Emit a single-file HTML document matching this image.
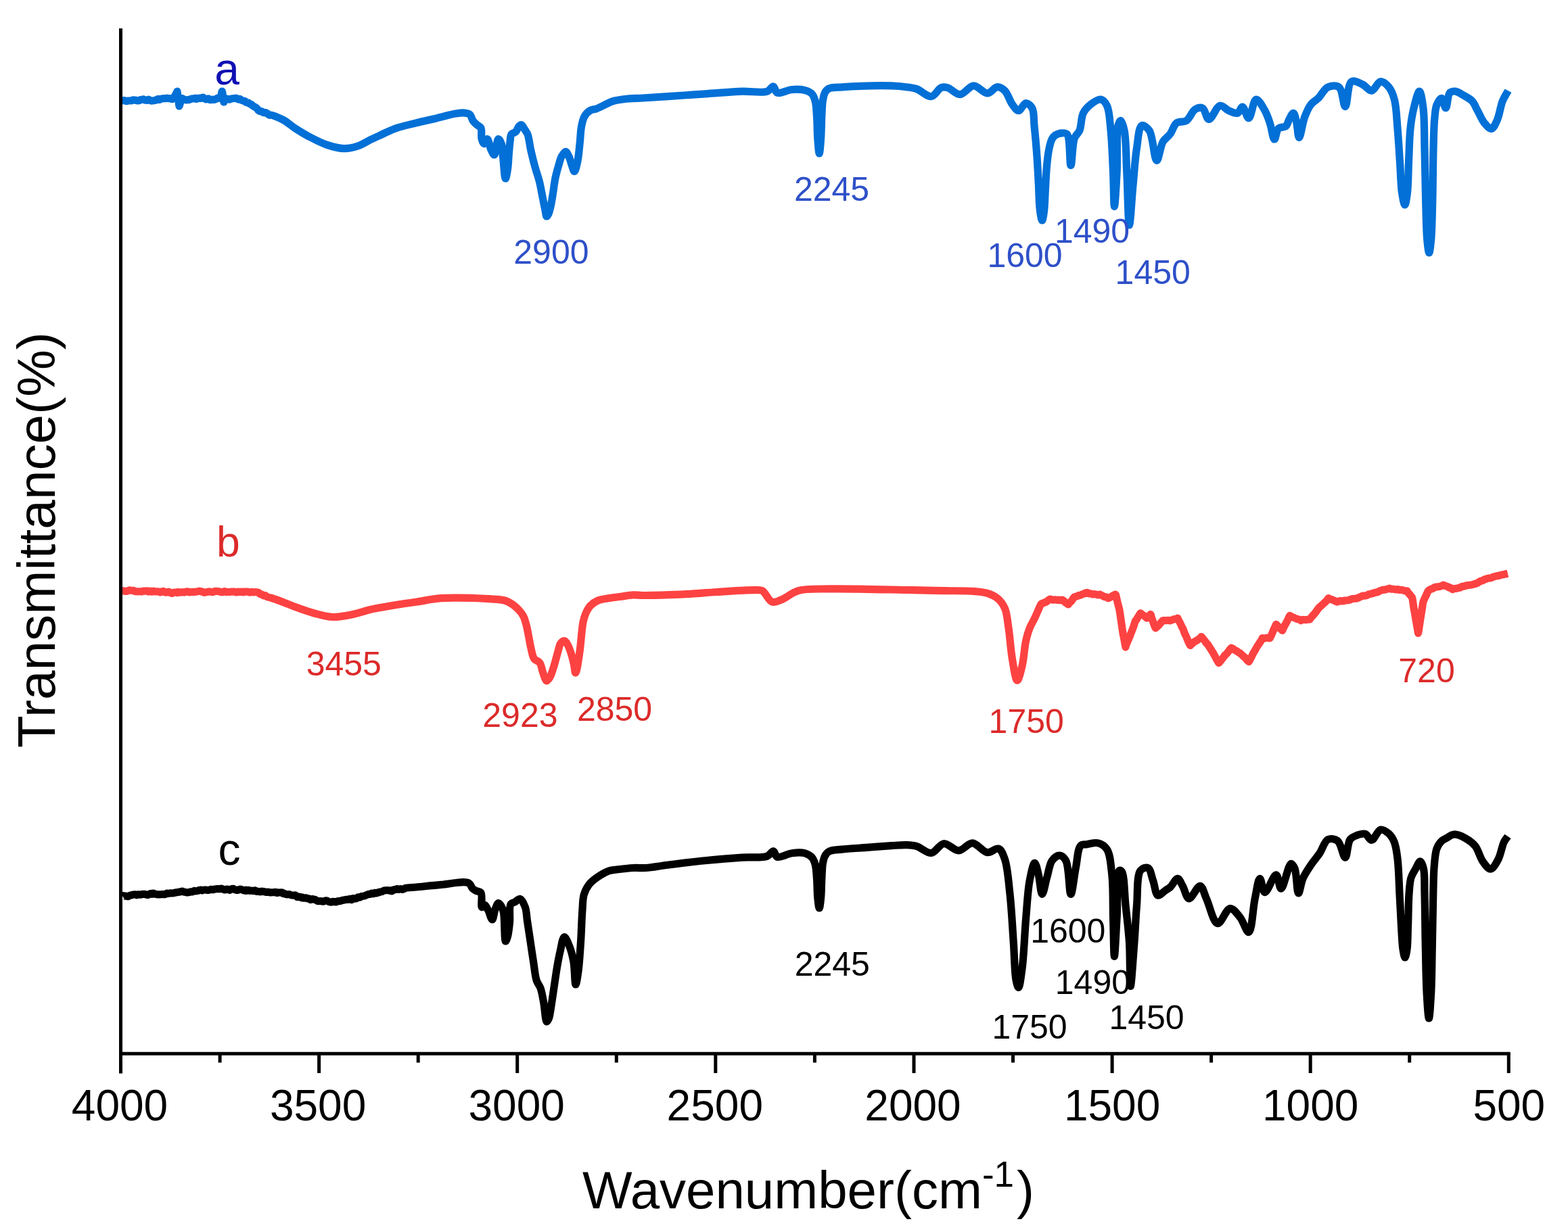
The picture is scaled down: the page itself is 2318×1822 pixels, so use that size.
<!DOCTYPE html>
<html><head><meta charset="utf-8"><title>FTIR spectra</title>
<style>
html,body{margin:0;padding:0;background:#ffffff;}
body{width:2318px;height:1822px;overflow:hidden;}
svg{display:block;}
text{font-family:'Liberation Sans', Arial, Helvetica, sans-serif;}
</style></head><body>
<svg width="2318" height="1822" viewBox="0 0 2318 1822">
<rect x="0" y="0" width="2318" height="1822" fill="#ffffff"/>
<path d="M181.0,148.8 C181.3,148.8 181.6,148.7 182.0,148.7 C182.6,148.6 183.7,148.6 184.5,148.8 C185.3,149.0 186.2,149.6 187.0,149.6 C187.8,149.7 188.7,149.2 189.5,149.0 C190.3,148.9 191.2,148.8 192.0,148.8 C192.8,148.7 193.7,148.9 194.5,148.8 C195.3,148.6 196.2,148.0 197.0,147.9 C197.8,147.8 198.7,148.0 199.5,148.1 C200.3,148.2 201.2,148.3 202.0,148.5 C202.8,148.6 203.7,149.0 204.5,149.0 C205.3,148.9 206.5,148.5 206.8,148.2 C207.0,148.0 206.8,147.8 207.0,147.7 C207.4,147.4 208.7,147.6 209.5,147.4 C210.3,147.3 211.2,146.7 212.0,146.8 C212.9,146.9 213.6,147.8 214.5,148.1 C215.3,148.3 216.2,148.5 217.0,148.4 C217.9,148.3 218.7,147.1 219.5,147.1 C220.3,147.1 221.1,148.2 222.0,148.5 C222.8,148.8 223.7,149.1 224.5,149.1 C225.3,149.2 226.2,148.8 227.0,148.7 C227.8,148.6 228.7,148.6 229.5,148.4 C230.4,148.1 231.2,147.6 232.0,147.2 C232.8,146.8 234.0,146.0 234.5,146.3 C234.8,146.4 234.7,147.4 235.0,147.5 C235.4,147.7 236.3,147.0 237.0,146.8 C237.8,146.5 238.7,146.1 239.5,145.9 C240.3,145.7 241.2,145.7 242.0,145.7 C242.8,145.6 243.7,145.7 244.5,145.6 C245.3,145.5 246.2,145.0 247.0,145.0 C247.8,145.0 248.7,145.4 249.5,145.6 C250.3,145.7 251.2,145.5 252.0,145.7 C252.8,145.9 253.8,146.6 254.5,146.6 C255.1,146.6 255.6,146.3 256.0,146.0 C256.4,145.6 256.6,145.1 257.0,144.4 C257.7,143.3 258.7,141.5 259.5,140.0 C260.3,138.5 261.9,135.8 262.0,135.2 C262.0,135.1 262.0,135.0 262.0,135.0 C262.1,135.0 264.0,150.1 264.5,153.8 C264.7,155.3 264.7,157.0 265.0,157.0 C265.4,157.0 266.5,151.8 267.0,149.8 C267.4,148.3 267.4,146.6 268.0,146.0 C268.4,145.6 269.0,145.5 269.5,145.6 C270.2,145.7 271.1,146.6 272.0,147.0 C272.8,147.3 273.7,147.6 274.5,147.7 C275.3,147.8 276.2,147.8 277.0,147.7 C277.8,147.7 278.7,147.7 279.5,147.5 C280.3,147.3 281.2,146.8 282.0,146.5 C282.8,146.3 283.7,146.0 284.5,145.9 C285.3,145.7 286.2,145.8 287.0,145.7 C287.8,145.6 289.0,144.9 289.5,145.2 C289.9,145.4 289.7,146.3 290.0,146.5 C290.4,146.7 291.3,146.1 292.0,145.9 C292.8,145.7 293.7,145.2 294.5,145.1 C295.3,145.0 296.2,145.5 297.0,145.4 C297.9,145.2 299.0,144.4 299.5,144.2 C299.7,144.1 299.8,144.0 300.0,144.0 C300.5,144.1 301.3,145.3 302.0,145.7 C302.8,146.2 303.7,146.8 304.5,146.9 C305.3,146.9 306.2,146.1 307.0,146.0 C307.8,145.9 309.0,146.1 309.5,146.5 C309.8,146.7 309.7,147.3 310.0,147.5 C310.4,147.8 311.3,147.7 312.0,147.7 C312.8,147.6 313.7,147.0 314.5,147.0 C315.3,146.9 316.2,147.6 317.0,147.5 C317.8,147.5 318.7,146.8 319.5,146.4 C320.3,145.9 321.1,145.0 322.0,144.9 C322.8,144.7 323.8,145.1 324.5,145.1 C325.1,145.1 325.6,145.3 326.0,145.0 C326.6,144.5 326.7,142.6 327.0,141.2 C327.4,139.4 327.9,135.0 328.3,135.0 C328.7,135.0 329.1,139.4 329.5,141.9 C330.0,144.7 330.4,150.9 331.0,151.0 C331.3,151.0 331.5,149.6 332.0,149.0 C332.6,148.2 333.7,147.1 334.5,146.6 C335.0,146.3 335.6,146.0 336.0,146.0 C336.4,146.0 336.6,146.5 337.0,146.6 C337.6,146.9 338.7,147.2 339.5,147.1 C340.4,146.9 341.1,146.1 342.0,145.9 C342.8,145.7 343.7,145.8 344.5,145.7 C345.3,145.6 346.2,145.4 347.0,145.4 C347.8,145.3 348.7,145.0 349.5,145.2 C350.4,145.4 351.2,146.4 352.0,146.7 C352.7,147.0 353.6,147.2 354.0,147.0 C354.3,146.9 354.2,146.5 354.5,146.4 C355.0,146.4 356.1,147.6 357.0,148.0 C357.8,148.5 358.7,148.9 359.5,149.1 C360.3,149.4 361.2,149.3 362.0,149.7 C362.9,150.1 363.6,151.3 364.5,151.6 C365.3,152.0 366.3,151.6 367.0,151.9 C367.7,152.2 368.3,153.1 368.8,153.4 C369.1,153.6 369.2,153.7 369.5,153.8 C370.1,154.1 371.2,154.3 372.0,154.8 C372.9,155.3 373.6,156.3 374.5,156.9 C375.3,157.4 376.2,157.8 377.0,158.3 C377.8,158.9 378.7,159.4 379.5,160.1 C380.3,160.8 381.3,162.0 381.7,162.6 C381.9,162.9 381.8,163.0 382.0,163.3 C382.4,163.7 383.6,164.4 384.5,164.7 C385.3,164.9 386.2,164.5 387.0,164.8 C387.9,165.1 388.6,166.3 389.5,166.6 C390.3,166.9 391.2,166.4 392.0,166.5 C392.8,166.7 393.7,167.0 394.5,167.4 C395.4,167.9 396.1,168.9 397.0,169.4 C397.8,169.8 399.0,170.4 399.5,170.4 C399.8,170.4 399.7,170.0 400.1,170.0 C402.0,169.8 412.5,174.1 418.5,177.3 C424.8,180.7 430.7,186.2 436.9,190.2 C443.0,194.1 448.4,197.6 455.3,201.2 C463.5,205.5 473.7,211.0 482.9,214.1 C491.5,217.0 500.6,219.5 508.7,219.6 C515.9,219.7 522.5,218.1 529.0,216.0 C535.4,213.9 541.8,209.5 547.4,206.8 C552.0,204.6 555.1,203.2 560.0,201.0 C566.7,197.9 575.3,193.3 583.9,190.2 C593.5,186.8 605.1,184.4 615.2,181.9 C624.7,179.5 633.4,177.7 642.8,175.5 C652.7,173.1 665.6,169.4 673.4,168.1 C678.2,167.3 681.4,166.6 685.1,166.9 C688.4,167.1 692.2,167.4 694.5,169.3 C696.9,171.2 697.3,176.0 699.2,178.6 C700.9,180.9 703.0,182.7 705.0,184.5 C706.9,186.2 709.6,186.8 710.9,189.2 C712.8,192.8 710.9,201.4 712.1,205.6 C712.9,208.5 714.3,212.5 715.6,212.6 C717.0,212.7 718.8,205.4 720.3,205.6 C722.4,205.9 724.0,217.8 726.1,222.0 C727.6,224.9 729.4,229.2 730.8,229.0 C733.2,228.6 734.3,206.0 736.7,205.6 C738.1,205.4 740.2,209.5 741.3,212.6 C743.1,217.6 742.8,226.0 743.7,233.7 C744.8,242.9 745.8,263.9 747.2,264.0 C748.2,264.1 749.7,255.4 750.5,250.0 C751.6,242.9 751.8,232.5 752.5,225.0 C753.1,218.8 753.5,212.8 754.2,208.0 C754.7,204.4 754.4,200.7 756.0,198.5 C757.4,196.6 760.6,196.7 762.4,195.0 C764.4,193.0 765.4,188.6 767.1,186.8 C768.2,185.6 769.4,184.3 770.6,184.5 C772.5,184.8 774.8,190.2 776.5,192.7 C777.9,194.8 778.9,195.8 780.0,198.5 C782.0,203.6 783.0,214.2 784.7,222.0 C786.5,229.8 788.4,237.6 790.5,245.4 C792.6,253.2 795.5,261.0 797.5,268.8 C799.4,276.6 800.7,284.8 802.2,292.2 C803.5,298.8 804.9,305.9 806.0,311.0 C806.8,314.6 807.0,319.8 808.1,320.0 C808.9,320.2 810.2,317.7 811.0,316.0 C812.2,313.5 813.0,309.9 813.9,306.0 C815.2,300.6 816.3,293.2 817.4,286.4 C818.6,279.0 819.5,270.2 821.0,263.0 C822.3,256.7 824.0,250.9 825.6,245.4 C827.1,240.4 828.2,235.0 830.3,231.3 C831.9,228.4 834.4,224.2 836.2,224.3 C837.9,224.4 839.5,228.4 840.9,231.3 C842.8,235.1 844.1,241.4 845.6,245.4 C846.8,248.5 847.9,253.6 849.1,253.5 C850.6,253.4 852.5,245.1 853.7,239.5 C855.5,231.6 856.3,219.5 857.3,210.3 C858.2,202.0 858.2,193.7 859.6,186.8 C860.7,181.1 861.9,175.7 864.3,171.6 C866.4,168.1 869.4,165.2 872.5,163.4 C875.4,161.7 878.2,162.1 882.1,160.7 C888.4,158.4 898.1,152.2 906.1,149.7 C913.5,147.4 920.8,146.8 928.2,146.0 C935.5,145.2 941.8,145.5 950.0,145.0 C960.7,144.4 973.3,143.5 986.8,142.6 C1003.3,141.5 1023.6,140.1 1042.0,138.9 C1060.4,137.7 1080.7,135.8 1097.3,135.2 C1110.8,134.7 1126.2,138.0 1134.1,135.2 C1138.6,133.6 1140.8,127.4 1143.3,127.9 C1145.7,128.3 1145.6,135.7 1148.8,137.1 C1153.4,139.1 1163.8,133.1 1170.9,132.5 C1177.3,132.0 1184.1,132.0 1189.3,133.4 C1193.6,134.5 1197.7,136.2 1200.3,138.9 C1202.8,141.5 1203.8,144.8 1205.0,149.0 C1206.7,155.0 1206.9,163.6 1207.5,172.0 C1208.2,182.0 1208.1,195.1 1208.8,205.0 C1209.4,213.1 1210.4,227.0 1211.2,227.0 C1212.0,227.0 1213.0,213.1 1213.6,205.0 C1214.3,195.1 1214.3,182.1 1214.8,172.0 C1215.3,163.4 1215.3,154.6 1216.5,148.0 C1217.3,143.3 1218.1,139.0 1220.0,136.0 C1221.5,133.6 1223.3,131.8 1226.1,130.6 C1230.4,128.7 1236.3,129.3 1244.5,128.8 C1260.9,127.8 1300.9,126.4 1318.2,126.9 C1327.6,127.2 1333.5,127.8 1340.0,128.7 C1345.4,129.4 1349.4,129.6 1354.7,131.4 C1361.5,133.7 1370.4,143.3 1376.8,142.5 C1382.5,141.8 1386.9,131.3 1391.5,129.6 C1394.7,128.4 1397.2,128.7 1400.7,129.6 C1405.9,130.9 1413.0,139.9 1419.2,139.7 C1425.9,139.5 1432.6,127.0 1439.4,126.8 C1446.1,126.6 1453.4,138.1 1459.6,137.9 C1465.0,137.8 1469.8,128.9 1474.4,128.7 C1478.3,128.5 1482.1,131.1 1485.4,134.2 C1489.9,138.5 1492.6,149.2 1496.5,154.4 C1499.4,158.3 1502.5,163.6 1505.7,163.6 C1509.2,163.6 1513.1,152.8 1516.7,152.6 C1519.8,152.4 1523.8,156.2 1525.9,160.0 C1529.0,165.7 1528.0,176.4 1529.0,186.0 C1530.2,197.7 1531.5,211.5 1532.5,225.0 C1533.6,239.5 1534.4,255.4 1535.2,270.0 C1536.0,283.7 1536.0,299.7 1537.3,310.0 C1538.1,316.6 1539.5,326.0 1540.6,326.0 C1541.6,326.0 1542.8,317.6 1543.5,312.0 C1544.6,303.9 1544.7,292.3 1545.3,282.0 C1546.0,271.0 1546.3,258.6 1547.3,248.0 C1548.1,238.7 1549.0,229.6 1550.5,222.0 C1551.7,216.0 1552.9,209.9 1555.0,206.0 C1556.4,203.3 1557.8,201.5 1560.0,200.0 C1562.6,198.3 1567.0,196.9 1570.1,196.8 C1572.7,196.7 1575.5,196.4 1577.5,198.6 C1582.4,204.1 1581.1,244.6 1583.0,244.6 C1584.8,244.6 1585.1,213.1 1588.5,204.1 C1590.5,199.0 1593.9,197.8 1595.9,193.1 C1598.7,186.5 1598.0,174.1 1601.4,167.3 C1604.1,161.8 1608.1,157.8 1612.4,154.4 C1616.7,151.1 1623.1,146.4 1627.2,147.1 C1630.9,147.7 1634.1,151.7 1636.4,156.3 C1640.2,163.8 1640.5,177.8 1641.9,191.2 C1643.8,209.4 1644.7,235.6 1645.6,255.7 C1646.4,273.3 1646.5,305.4 1647.4,305.4 C1648.3,305.4 1650.2,273.7 1651.1,255.7 C1652.2,234.4 1650.1,196.9 1652.9,185.7 C1653.9,181.9 1655.3,178.3 1656.6,178.4 C1658.4,178.5 1660.7,186.4 1662.1,193.1 C1665.0,206.6 1664.6,233.7 1665.8,255.7 C1667.1,280.1 1667.8,333.0 1669.5,333.0 C1671.0,333.0 1673.1,293.3 1675.0,274.0 C1676.8,255.3 1677.9,234.9 1680.5,218.9 C1682.5,206.4 1683.3,187.5 1687.9,185.7 C1690.8,184.5 1695.9,188.7 1699.0,193.1 C1704.7,201.2 1706.2,237.2 1710.0,237.3 C1713.0,237.4 1715.1,216.6 1719.2,209.7 C1722.2,204.6 1726.8,202.4 1730.0,198.0 C1733.5,193.3 1734.9,185.2 1739.2,182.0 C1743.1,179.1 1749.6,181.2 1753.9,178.4 C1759.0,175.1 1762.1,164.6 1766.8,161.8 C1770.3,159.7 1774.8,158.5 1777.9,160.0 C1781.9,162.0 1783.3,176.2 1787.1,176.5 C1791.6,176.9 1798.0,157.4 1803.6,156.3 C1807.8,155.5 1812.1,161.7 1816.5,163.6 C1820.7,165.4 1826.0,168.4 1829.4,167.3 C1832.6,166.3 1834.4,157.9 1836.8,158.1 C1839.9,158.4 1843.0,174.9 1846.0,174.7 C1849.8,174.5 1852.5,147.7 1857.0,147.1 C1860.7,146.6 1866.5,157.7 1869.9,163.6 C1873.2,169.3 1875.1,175.4 1877.3,182.0 C1879.8,189.4 1881.7,205.9 1884.0,206.0 C1885.9,206.1 1886.7,193.2 1890.0,190.0 C1892.7,187.4 1898.2,188.9 1900.9,186.6 C1903.6,184.3 1904.1,179.3 1906.0,176.0 C1907.8,172.9 1910.3,167.1 1912.0,167.3 C1913.9,167.6 1915.2,175.1 1916.5,180.0 C1918.2,186.6 1918.7,203.4 1920.5,203.5 C1922.6,203.6 1925.5,181.6 1928.8,172.8 C1931.5,165.7 1934.2,159.2 1938.0,154.4 C1941.1,150.4 1945.0,148.9 1948.7,145.3 C1953.3,140.8 1957.5,131.4 1963.1,128.9 C1968.0,126.7 1975.4,125.9 1979.5,128.9 C1985.1,133.0 1985.8,157.7 1988.7,157.6 C1992.0,157.5 1991.8,124.4 1997.9,120.7 C2002.0,118.2 2009.3,122.5 2014.3,124.8 C2019.2,127.0 2023.3,134.5 2027.6,134.1 C2032.2,133.7 2036.5,121.1 2041.0,120.7 C2045.0,120.3 2049.9,125.0 2053.2,128.9 C2057.0,133.5 2059.4,139.8 2061.4,147.4 C2064.4,158.5 2064.7,175.2 2066.0,190.0 C2067.4,206.0 2068.4,223.8 2069.5,240.0 C2070.6,255.4 2070.7,273.4 2072.5,285.0 C2073.6,292.4 2075.5,303.0 2076.8,303.0 C2078.1,303.0 2079.6,292.4 2080.5,285.0 C2081.9,273.4 2081.8,255.4 2082.5,240.0 C2083.3,223.8 2083.4,204.5 2085.0,190.0 C2086.2,178.7 2087.7,169.4 2090.0,160.0 C2092.2,151.2 2096.0,135.0 2098.3,135.1 C2100.6,135.2 2102.7,149.8 2104.0,160.0 C2106.0,175.6 2105.4,198.6 2106.0,220.0 C2106.7,244.8 2107.0,275.8 2107.7,300.0 C2108.3,320.0 2108.5,341.5 2109.8,355.0 C2110.6,363.0 2111.7,374.0 2112.7,374.0 C2113.7,374.0 2114.8,363.0 2115.6,355.0 C2116.9,341.5 2117.2,320.0 2117.7,300.0 C2118.4,275.8 2118.4,242.9 2119.0,220.0 C2119.5,202.9 2119.6,187.0 2120.8,175.0 C2121.6,167.0 2121.8,160.3 2124.0,155.0 C2125.7,150.9 2129.0,145.1 2131.1,145.3 C2133.5,145.6 2135.4,159.8 2137.3,159.7 C2139.6,159.5 2139.8,140.6 2143.4,137.1 C2145.6,135.0 2148.7,134.8 2151.6,135.1 C2155.4,135.5 2159.9,138.9 2163.9,141.2 C2168.1,143.6 2172.8,145.8 2176.2,149.4 C2179.8,153.2 2181.5,158.7 2184.4,163.8 C2187.6,169.5 2190.7,177.6 2194.6,182.2 C2197.7,185.9 2201.9,190.9 2204.9,190.4 C2208.1,189.9 2210.7,183.3 2213.1,178.1 C2216.5,170.7 2218.1,157.3 2221.3,149.4 C2223.8,143.4 2226.8,139.2 2229.5,134.1" fill="none" stroke="#0270d6" stroke-width="11.2" stroke-linejoin="round" stroke-linecap="butt"/>
<path d="M181.0,873.9 C181.3,873.9 181.6,873.8 182.0,873.9 C182.6,873.9 183.7,874.2 184.5,874.3 C185.3,874.4 186.2,874.6 187.0,874.5 C187.8,874.4 188.7,873.9 189.5,873.6 C190.3,873.3 191.2,873.0 192.0,872.9 C192.8,872.9 193.7,873.2 194.5,873.3 C195.3,873.4 196.2,873.2 197.0,873.3 C197.9,873.5 198.6,874.2 199.5,874.5 C200.3,874.7 201.2,874.7 202.0,874.8 C202.8,874.9 203.7,874.8 204.5,874.8 C205.3,874.8 206.2,874.7 207.0,874.8 C207.8,874.8 208.7,875.1 209.5,875.0 C210.3,874.9 211.2,874.2 212.0,874.1 C212.8,874.0 213.7,874.3 214.5,874.2 C215.3,874.2 216.2,873.7 217.0,873.8 C217.9,873.9 218.7,875.0 219.5,875.1 C220.3,875.1 221.2,874.0 222.0,874.0 C222.8,874.0 223.9,875.1 224.5,875.1 C224.8,875.1 224.9,874.9 225.2,874.8 C225.7,874.6 226.4,874.2 227.0,874.2 C227.8,874.2 228.7,874.9 229.5,875.0 C230.3,875.1 231.2,874.8 232.0,874.8 C232.8,874.8 233.7,874.7 234.5,874.9 C235.3,875.1 236.2,875.9 237.0,875.9 C237.8,875.9 238.7,875.0 239.5,874.8 C240.3,874.6 241.2,874.2 242.0,874.4 C242.9,874.6 243.6,875.7 244.5,876.0 C245.3,876.2 246.2,876.1 247.0,876.0 C247.8,875.9 248.7,875.1 249.5,875.2 C250.4,875.3 251.1,876.3 252.0,876.7 C252.8,877.1 253.7,877.5 254.5,877.4 C255.3,877.3 256.1,876.4 257.0,876.2 C257.8,876.0 258.7,876.3 259.5,876.2 C260.3,876.2 261.7,875.5 262.0,875.7 C262.2,875.9 261.8,876.5 262.0,876.6 C262.3,876.8 263.7,875.7 264.5,875.7 C265.3,875.6 266.2,876.2 267.0,876.2 C267.8,876.2 268.7,875.5 269.5,875.5 C270.3,875.5 271.2,876.2 272.0,876.1 C272.8,876.1 273.7,875.3 274.5,875.1 C275.3,874.9 276.2,874.7 277.0,874.8 C277.8,874.9 278.7,875.7 279.5,875.8 C280.3,875.9 281.2,875.6 282.0,875.5 C282.8,875.4 283.7,875.3 284.5,875.3 C285.3,875.3 286.2,875.5 287.0,875.5 C287.8,875.4 288.7,875.3 289.5,875.2 C290.3,875.2 291.2,875.1 292.0,874.9 C292.8,874.7 293.7,874.0 294.5,874.0 C295.3,873.9 296.2,874.7 297.0,874.8 C297.7,874.9 298.5,874.6 298.9,874.8 C299.2,875.0 299.2,875.5 299.5,875.7 C300.0,876.1 301.2,876.2 302.0,876.3 C302.8,876.3 303.7,876.1 304.5,875.9 C305.3,875.7 306.2,875.3 307.0,875.2 C307.8,875.0 308.7,874.8 309.5,874.8 C310.3,874.8 311.2,875.2 312.0,875.3 C312.8,875.4 313.7,875.7 314.5,875.6 C315.3,875.4 316.2,874.8 317.0,874.6 C317.8,874.4 318.7,874.4 319.5,874.3 C320.3,874.3 321.2,874.4 322.0,874.5 C322.8,874.6 323.7,874.7 324.5,874.9 C325.3,875.1 326.2,875.6 327.0,875.7 C327.8,875.8 328.7,875.7 329.5,875.5 C330.3,875.3 331.2,874.5 332.0,874.5 C332.8,874.5 333.6,875.5 334.5,875.6 C335.3,875.7 336.2,875.4 337.0,875.4 C337.8,875.4 338.7,875.6 339.5,875.5 C340.3,875.4 341.2,875.0 342.0,875.0 C342.8,874.9 343.7,875.1 344.5,875.1 C345.3,875.2 346.2,875.0 347.0,875.2 C347.8,875.3 348.7,876.0 349.5,876.0 C350.3,875.9 351.2,875.1 352.0,875.0 C352.7,875.0 353.7,875.7 354.1,875.7 C354.3,875.7 354.3,875.6 354.5,875.5 C355.0,875.3 356.2,875.0 357.0,875.0 C357.8,875.1 358.7,875.9 359.5,875.9 C360.3,875.9 361.2,875.2 362.0,875.0 C362.8,874.9 363.7,875.1 364.5,875.1 C365.3,875.2 366.2,875.2 367.0,875.4 C367.8,875.5 368.7,876.1 369.5,876.1 C370.3,876.1 371.2,875.4 372.0,875.3 C372.8,875.3 373.7,875.8 374.5,875.8 C375.3,875.8 376.2,875.6 377.0,875.6 C377.8,875.6 378.7,875.5 379.5,875.7 C380.3,875.8 381.3,876.7 381.7,876.6 C381.9,876.6 381.8,876.3 382.0,876.2 C382.4,876.2 383.6,877.9 384.5,878.4 C385.3,878.8 386.2,878.7 387.0,879.0 C387.9,879.4 388.6,880.6 389.5,880.8 C390.3,881.0 391.2,880.4 392.0,880.6 C392.9,880.9 393.4,882.0 394.5,882.5 C395.9,883.2 397.7,883.3 400.1,884.0 C404.5,885.3 412.4,888.1 418.5,890.4 C424.7,892.7 430.1,895.3 436.9,897.8 C445.1,900.8 455.2,904.5 464.5,907.0 C473.6,909.4 482.9,912.2 492.1,912.5 C501.3,912.8 510.6,910.7 519.7,908.9 C529.0,907.1 539.9,903.2 547.4,901.5 C552.4,900.3 555.4,899.9 560.0,899.0 C565.6,898.0 571.2,896.9 578.4,895.7 C588.6,894.0 602.9,892.0 615.2,890.2 C627.5,888.4 638.9,885.7 652.0,884.7 C666.9,883.6 686.9,884.2 700.0,884.5 C709.1,884.7 715.3,885.1 723.0,885.7 C730.7,886.3 739.8,886.2 746.0,888.0 C750.6,889.3 754.0,891.4 757.5,893.7 C760.9,896.0 764.0,898.9 766.7,901.8 C769.3,904.6 771.7,907.5 773.6,911.0 C775.7,915.0 776.9,919.9 778.2,924.8 C779.6,930.2 780.6,936.3 781.7,942.0 C782.9,947.8 783.7,953.8 785.1,959.3 C786.4,964.5 787.1,970.8 789.7,974.3 C791.7,977.1 795.7,977.2 797.8,980.0 C800.3,983.3 800.9,989.6 802.4,993.8 C803.7,997.5 804.8,1001.7 806.0,1004.0 C806.7,1005.4 807.3,1006.9 808.1,1007.0 C808.8,1007.1 809.7,1005.9 810.5,1005.0 C811.6,1003.7 812.8,1002.0 813.9,999.6 C815.8,995.5 817.9,988.4 819.7,982.3 C821.7,975.7 823.7,967.3 825.4,961.6 C826.6,957.5 827.0,953.5 828.9,951.2 C830.4,949.4 832.9,947.5 834.6,947.8 C836.4,948.1 837.8,951.1 839.2,953.5 C841.0,956.6 842.4,960.7 843.8,965.0 C845.5,970.1 847.2,977.0 848.4,982.3 C849.4,986.8 849.8,994.9 850.7,995.0 C851.2,995.1 852.0,992.6 852.5,991.0 C853.2,988.7 853.6,985.9 854.2,982.3 C855.2,976.5 856.6,967.0 857.6,959.3 C858.5,951.6 859.1,943.4 859.9,936.3 C860.6,930.1 861.0,924.4 862.2,919.0 C863.3,914.1 864.9,909.2 866.8,905.2 C868.5,901.7 870.0,898.7 872.6,896.0 C875.6,892.9 879.7,889.9 884.1,888.0 C889.1,885.9 895.5,885.5 901.3,884.5 C907.0,883.5 912.8,883.0 918.6,882.2 C924.3,881.4 930.3,880.1 935.8,879.9 C940.7,879.7 943.7,880.4 950.0,880.5 C962.4,880.6 986.8,880.0 1005.2,879.2 C1023.6,878.4 1042.0,876.6 1060.4,875.5 C1078.8,874.4 1104.3,872.5 1115.7,872.7 C1120.8,872.8 1123.1,871.8 1126.7,873.6 C1131.8,876.1 1135.9,888.5 1141.4,890.2 C1145.9,891.6 1150.8,888.6 1156.2,886.5 C1163.4,883.7 1170.5,876.3 1180.1,873.6 C1192.6,870.0 1207.0,871.3 1226.1,870.9 C1257.4,870.2 1318.9,872.2 1350.0,872.7 C1368.8,873.0 1380.1,873.3 1395.2,873.6 C1410.5,873.9 1429.3,873.6 1441.2,874.6 C1448.7,875.2 1453.9,875.5 1459.6,877.3 C1464.9,879.0 1470.2,881.2 1474.4,884.7 C1478.9,888.4 1482.7,893.3 1485.4,899.4 C1488.9,907.2 1489.3,917.9 1491.0,928.9 C1493.1,942.5 1494.1,961.1 1496.5,974.9 C1498.5,986.4 1501.1,1006.1 1503.8,1006.2 C1506.1,1006.3 1509.2,992.5 1511.2,984.1 C1513.7,973.5 1514.4,957.4 1516.7,947.3 C1518.3,940.0 1519.9,934.6 1522.2,928.9 C1524.3,923.6 1527.0,919.4 1529.6,914.1 C1532.6,907.9 1537.0,896.6 1538.8,893.9 C1539.3,893.1 1539.5,892.9 1540.0,892.6 C1540.6,892.2 1541.7,892.1 1542.5,891.8 C1543.3,891.5 1544.2,890.9 1545.0,890.6 C1545.8,890.3 1546.7,890.2 1547.5,889.7 C1548.4,889.2 1549.2,888.1 1550.0,887.5 C1550.6,887.1 1551.2,886.7 1551.7,886.5 C1552.0,886.3 1552.2,886.2 1552.5,886.2 C1553.1,886.1 1554.2,886.7 1555.0,886.9 C1555.8,887.0 1556.7,887.1 1557.5,887.1 C1558.3,887.1 1559.2,886.7 1560.0,886.8 C1560.8,886.8 1561.7,887.2 1562.5,887.3 C1563.3,887.3 1564.2,887.0 1565.0,887.1 C1565.8,887.2 1566.7,887.7 1567.5,887.7 C1568.3,887.7 1569.7,886.8 1570.0,887.0 C1570.1,887.1 1570.0,887.3 1570.1,887.4 C1570.4,887.7 1571.7,887.9 1572.5,888.5 C1573.4,889.1 1574.1,890.5 1575.0,891.2 C1575.8,891.8 1576.7,892.1 1577.5,892.6 C1578.2,893.0 1578.9,894.0 1579.3,893.9 C1579.6,893.8 1579.6,893.1 1580.0,892.6 C1580.5,891.9 1581.7,891.2 1582.5,890.3 C1583.4,889.4 1584.2,888.4 1585.0,887.4 C1585.9,886.2 1586.8,884.4 1587.5,883.6 C1587.9,883.2 1588.1,883.0 1588.5,882.8 C1588.9,882.6 1589.4,882.4 1590.0,882.2 C1590.7,882.0 1591.7,882.1 1592.5,881.8 C1593.4,881.5 1594.1,880.7 1595.0,880.4 C1595.8,880.2 1596.7,880.4 1597.5,880.1 C1598.4,879.9 1599.1,879.1 1600.0,878.8 C1600.8,878.4 1601.7,878.4 1602.5,878.1 C1603.3,877.7 1604.2,877.0 1605.0,876.9 C1605.7,876.8 1606.5,877.5 1606.9,877.3 C1607.2,877.2 1607.2,876.5 1607.5,876.4 C1608.0,876.3 1609.1,877.7 1610.0,877.9 C1610.8,878.1 1611.7,877.7 1612.5,877.9 C1613.4,878.0 1614.2,878.8 1615.0,878.9 C1615.8,879.0 1616.7,878.7 1617.5,878.7 C1618.3,878.7 1619.2,878.8 1620.0,879.0 C1620.8,879.1 1621.7,879.5 1622.5,879.7 C1623.3,879.8 1624.6,880.1 1625.0,879.8 C1625.2,879.7 1625.1,879.3 1625.3,879.2 C1625.7,879.0 1626.8,879.5 1627.5,879.9 C1628.3,880.2 1629.2,880.8 1630.0,881.2 C1630.8,881.6 1631.6,882.2 1632.5,882.5 C1633.3,882.8 1634.2,882.8 1635.0,882.9 C1635.8,883.1 1637.0,883.2 1637.5,883.6 C1637.9,883.8 1637.8,884.6 1638.2,884.7 C1638.6,884.8 1639.4,884.3 1640.0,884.0 C1640.8,883.6 1641.7,883.2 1642.5,882.7 C1643.4,882.1 1644.1,881.4 1645.0,880.9 C1645.8,880.4 1646.7,880.0 1647.5,879.8 C1648.1,879.5 1648.8,879.0 1649.2,879.2 C1649.7,879.5 1649.7,880.6 1650.0,881.7 C1650.6,883.8 1651.3,887.4 1652.0,890.5 C1652.8,893.9 1654.4,899.5 1654.8,901.2 C1654.9,901.7 1654.9,901.7 1655.0,902.2 C1655.4,904.7 1657.1,916.5 1658.0,922.8 C1658.8,928.3 1659.7,934.9 1660.3,938.1 C1660.6,939.5 1660.7,939.8 1661.0,941.2 C1661.7,944.4 1663.9,957.0 1664.0,956.9 C1664.0,956.9 1664.0,956.7 1664.0,956.5 C1664.2,955.5 1666.0,951.1 1667.0,948.5 C1668.0,946.1 1669.2,943.6 1670.0,941.7 C1670.5,940.3 1670.8,939.3 1671.3,938.1 C1671.8,936.7 1672.4,935.5 1673.0,933.8 C1673.9,931.6 1675.0,928.5 1676.0,925.9 C1676.9,923.2 1678.2,917.8 1678.7,917.8 C1678.8,917.8 1678.8,918.3 1679.0,918.3 C1679.5,918.3 1681.0,914.7 1682.0,913.0 C1683.0,911.4 1684.2,909.4 1685.0,908.3 C1685.4,907.6 1685.7,906.8 1686.1,906.8 C1686.6,906.7 1687.3,907.9 1688.0,908.5 C1688.9,909.2 1690.0,909.8 1691.0,910.5 C1692.0,911.2 1693.2,912.0 1694.0,912.7 C1694.6,913.2 1694.9,914.1 1695.3,914.1 C1695.8,914.1 1696.3,912.6 1697.0,911.8 C1697.8,911.0 1699.3,910.2 1700.0,909.6 C1700.4,909.2 1700.5,908.5 1700.8,908.6 C1701.5,908.7 1702.2,912.9 1703.0,915.2 C1703.9,917.8 1705.1,921.1 1706.0,923.5 C1706.8,925.5 1707.6,928.8 1708.2,928.9 C1708.5,929.0 1708.6,928.4 1709.0,928.1 C1709.7,927.5 1711.0,926.5 1712.0,925.6 C1713.0,924.6 1714.0,923.4 1715.0,922.3 C1716.0,921.2 1717.2,919.6 1718.0,918.8 C1718.5,918.3 1718.7,918.0 1719.2,917.8 C1719.7,917.6 1720.3,917.7 1721.0,917.7 C1721.9,917.6 1723.0,917.8 1724.0,917.7 C1725.0,917.6 1726.0,917.3 1727.0,917.3 C1728.0,917.3 1729.8,917.5 1730.0,917.8 C1730.1,917.8 1729.9,918.0 1730.0,918.0 C1730.2,918.1 1732.0,917.0 1733.0,916.6 C1734.0,916.3 1735.0,916.0 1736.0,915.8 C1737.0,915.6 1738.1,915.7 1739.0,915.3 C1739.8,915.1 1740.5,913.9 1741.0,914.1 C1741.5,914.3 1741.5,915.6 1742.0,916.6 C1742.7,918.1 1744.0,920.2 1745.0,922.2 C1746.0,924.3 1747.4,927.9 1748.0,928.6 C1748.2,928.8 1748.2,928.7 1748.4,928.9 C1749.0,929.7 1750.1,933.6 1751.0,935.8 C1751.9,938.0 1753.0,940.1 1754.0,942.3 C1755.0,944.7 1756.0,947.4 1757.0,949.6 C1757.8,951.4 1759.0,954.5 1759.5,954.6 C1759.7,954.6 1759.7,954.2 1760.0,954.0 C1760.6,953.4 1762.0,952.2 1763.0,951.3 C1764.0,950.4 1765.0,949.5 1766.0,948.8 C1767.0,948.2 1768.0,948.0 1769.0,947.4 C1770.0,946.8 1771.0,945.9 1772.0,945.2 C1773.0,944.4 1774.3,943.6 1775.0,942.9 C1775.5,942.5 1775.6,941.7 1776.0,941.7 C1776.5,941.7 1777.3,943.2 1778.0,944.1 C1778.9,945.1 1780.0,946.4 1781.0,947.7 C1782.0,949.0 1783.2,951.0 1784.0,951.8 C1784.5,952.3 1784.8,952.4 1785.2,952.8 C1785.8,953.4 1786.3,954.5 1787.0,955.5 C1787.9,956.9 1789.0,958.6 1790.0,960.1 C1791.0,961.7 1792.0,963.2 1793.0,964.9 C1794.0,966.6 1795.0,968.4 1796.0,970.3 C1797.0,972.1 1798.0,974.2 1799.0,975.9 C1799.9,977.5 1801.4,980.2 1801.8,980.4 C1801.9,980.4 1801.9,980.4 1802.0,980.3 C1802.4,980.0 1804.0,977.8 1805.0,976.5 C1806.0,975.3 1807.0,974.2 1808.0,972.9 C1809.0,971.6 1809.9,970.1 1811.0,968.9 C1812.0,967.9 1813.0,967.2 1814.0,966.1 C1815.1,964.9 1816.0,963.5 1817.0,962.1 C1818.0,960.8 1819.6,958.3 1820.0,958.2 C1820.1,958.2 1820.1,958.2 1820.2,958.3 C1820.6,958.5 1822.1,958.9 1823.0,959.5 C1824.0,960.1 1825.0,961.2 1826.0,961.8 C1827.0,962.4 1828.0,962.6 1829.0,963.2 C1830.0,963.8 1831.2,965.2 1832.0,965.5 C1832.4,965.7 1832.7,965.5 1833.1,965.7 C1833.7,966.0 1834.3,966.9 1835.0,967.6 C1835.9,968.5 1837.0,969.6 1838.0,970.5 C1839.0,971.4 1840.0,972.0 1841.0,973.0 C1842.1,974.1 1843.1,975.8 1844.0,976.8 C1844.7,977.6 1845.5,978.7 1846.0,978.6 C1846.4,978.6 1846.6,977.9 1847.0,977.3 C1847.8,976.1 1849.0,973.5 1850.0,971.6 C1851.0,969.6 1852.0,967.3 1853.0,965.6 C1853.8,964.2 1854.7,963.0 1855.2,962.0 C1855.5,961.4 1855.6,961.1 1856.0,960.5 C1856.7,959.2 1858.0,957.0 1859.0,955.4 C1860.0,953.8 1861.0,952.4 1862.0,950.9 C1863.0,949.4 1864.3,947.7 1865.0,946.3 C1865.5,945.3 1865.6,943.9 1866.2,943.6 C1866.7,943.4 1867.3,944.2 1868.0,944.3 C1868.9,944.3 1870.0,943.9 1871.0,943.7 C1872.0,943.5 1873.0,943.0 1874.0,943.0 C1875.0,943.1 1876.5,943.9 1877.0,943.8 C1877.2,943.8 1877.2,943.8 1877.3,943.6 C1877.8,943.0 1879.1,940.3 1880.0,938.3 C1881.0,936.1 1882.0,933.3 1883.0,930.9 C1884.0,928.7 1885.4,925.6 1886.0,924.4 C1886.2,923.9 1886.2,923.4 1886.5,923.3 C1887.0,923.2 1888.2,924.8 1889.0,925.8 C1890.0,926.8 1890.9,928.4 1892.0,929.4 C1892.9,930.3 1894.4,930.9 1895.0,931.5 C1895.4,931.9 1895.4,932.5 1895.7,932.5 C1896.3,932.4 1897.1,928.9 1898.0,927.2 C1898.9,925.4 1900.0,923.8 1901.0,921.9 C1902.0,920.0 1903.0,917.9 1904.0,916.0 C1904.9,914.1 1906.2,910.6 1906.7,910.4 C1906.8,910.4 1906.8,910.5 1907.0,910.6 C1907.5,910.8 1909.0,911.7 1910.0,912.2 C1911.0,912.7 1912.0,913.1 1913.0,913.5 C1914.0,914.0 1915.0,914.6 1916.0,914.9 C1917.0,915.3 1918.0,915.5 1919.0,915.8 C1920.0,916.0 1921.2,916.2 1922.0,916.6 C1922.6,916.9 1922.8,917.8 1923.3,917.8 C1923.8,917.8 1924.3,916.9 1925.0,916.6 C1925.8,916.3 1927.0,916.5 1928.0,916.5 C1929.0,916.5 1930.0,916.6 1931.0,916.6 C1932.0,916.5 1933.1,916.2 1934.0,916.1 C1934.8,916.0 1935.7,916.3 1936.2,916.0 C1936.6,915.8 1936.6,915.2 1937.0,914.7 C1937.7,913.8 1939.0,912.4 1940.0,911.2 C1941.0,910.1 1942.0,908.9 1943.0,907.8 C1944.0,906.5 1945.0,905.3 1946.0,904.0 C1947.0,902.7 1948.1,901.0 1949.0,899.9 C1949.7,899.0 1950.3,898.1 1950.9,897.6 C1951.3,897.2 1951.6,897.2 1952.0,896.9 C1952.8,896.2 1954.0,895.0 1955.0,894.1 C1956.0,893.1 1957.0,892.2 1958.0,891.3 C1959.0,890.3 1960.1,889.5 1961.0,888.4 C1962.0,887.3 1963.4,885.0 1963.8,884.7 C1963.9,884.6 1963.9,884.6 1964.0,884.6 C1964.4,884.6 1966.0,885.8 1967.0,886.2 C1968.0,886.6 1969.0,886.8 1970.0,887.2 C1971.0,887.6 1972.0,888.0 1973.0,888.4 C1974.0,888.8 1975.4,889.5 1976.0,889.8 C1976.3,890.0 1976.4,890.2 1976.7,890.2 C1977.2,890.2 1978.2,889.5 1979.0,889.3 C1979.9,889.0 1981.0,888.7 1982.0,888.6 C1983.0,888.6 1984.0,889.1 1985.0,889.0 C1986.0,888.9 1987.0,888.2 1988.0,888.0 C1989.0,887.9 1990.0,888.1 1991.0,888.0 C1992.0,887.9 1993.0,887.7 1994.0,887.5 C1995.0,887.2 1996.0,886.7 1997.0,886.4 C1998.0,886.1 1999.0,885.8 2000.0,885.6 C2001.0,885.4 2002.0,885.4 2003.0,885.3 C2004.0,885.2 2005.7,885.2 2006.0,885.0 C2006.1,884.9 2006.0,884.8 2006.1,884.7 C2006.4,884.4 2008.0,884.1 2009.0,883.7 C2010.0,883.3 2011.0,882.6 2012.0,882.2 C2013.0,881.8 2014.0,881.3 2015.0,881.1 C2016.0,880.9 2017.0,881.2 2018.0,881.0 C2019.0,880.9 2020.0,880.7 2021.0,880.3 C2022.0,879.9 2023.0,879.0 2024.0,878.7 C2025.0,878.4 2026.2,878.6 2027.0,878.3 C2027.6,878.1 2027.9,877.8 2028.4,877.6 C2028.9,877.4 2029.4,877.5 2030.0,877.4 C2030.9,877.1 2032.0,876.4 2033.0,876.2 C2034.0,875.9 2035.0,876.2 2036.0,875.9 C2037.0,875.6 2038.0,874.8 2039.0,874.3 C2040.0,873.8 2041.0,873.4 2042.0,873.1 C2043.0,872.7 2044.0,872.5 2045.0,872.3 C2046.0,872.1 2047.0,872.2 2048.0,872.0 C2049.0,871.8 2050.0,871.5 2051.0,871.2 C2052.0,870.9 2053.6,870.4 2054.0,870.3 C2054.1,870.2 2054.1,870.2 2054.2,870.2 C2054.6,870.2 2056.0,871.0 2057.0,871.1 C2058.0,871.3 2059.0,871.0 2060.0,871.2 C2061.0,871.3 2062.0,871.9 2063.0,871.9 C2064.0,872.0 2065.0,871.4 2066.0,871.5 C2067.0,871.6 2068.0,872.3 2069.0,872.5 C2070.0,872.6 2071.0,872.3 2072.0,872.4 C2073.0,872.5 2074.0,872.9 2075.0,873.2 C2076.0,873.5 2077.1,874.0 2078.0,874.1 C2078.7,874.1 2079.5,873.6 2080.0,873.9 C2080.5,874.2 2080.5,874.9 2081.0,875.6 C2081.7,876.6 2083.0,878.0 2084.0,879.2 C2085.0,880.4 2086.4,882.3 2087.0,882.8 C2087.2,883.0 2087.3,882.9 2087.4,883.1 C2088.2,884.3 2089.1,893.4 2090.0,898.8 C2091.0,904.4 2092.0,910.3 2093.0,916.0 C2094.0,921.8 2095.4,929.8 2096.0,933.2 C2096.2,934.8 2096.3,936.5 2096.5,936.5 C2097.0,936.5 2098.1,926.3 2099.0,920.8 C2100.0,914.9 2101.1,907.7 2102.0,902.2 C2102.7,897.8 2103.2,893.0 2103.9,890.4 C2104.3,889.1 2104.5,888.6 2105.0,887.4 C2105.7,885.7 2107.0,883.2 2108.0,881.0 C2109.0,878.9 2110.5,875.4 2111.0,874.4 C2111.1,874.1 2111.1,874.1 2111.3,873.9 C2111.7,873.4 2113.0,872.4 2114.0,871.9 C2114.9,871.3 2116.0,871.1 2117.0,870.7 C2118.0,870.3 2119.7,869.8 2120.0,869.4 C2120.1,869.2 2119.9,869.1 2120.0,869.0 C2120.3,868.7 2122.0,868.3 2123.0,868.1 C2124.0,867.9 2125.0,867.9 2126.0,867.7 C2127.0,867.6 2128.0,867.5 2129.0,867.2 C2130.0,867.0 2131.2,866.6 2132.0,866.1 C2132.7,865.8 2133.2,865.0 2133.7,865.0 C2134.2,865.0 2134.5,865.6 2135.0,865.8 C2135.8,866.2 2137.0,866.5 2138.0,866.9 C2139.0,867.2 2140.3,867.5 2141.0,867.9 C2141.5,868.2 2141.6,868.8 2142.0,869.0 C2142.5,869.3 2143.3,869.0 2144.0,869.2 C2144.9,869.6 2146.2,871.2 2147.0,871.4 C2147.4,871.6 2147.6,871.6 2148.0,871.5 C2148.6,871.4 2149.2,870.7 2150.0,870.5 C2150.9,870.3 2152.0,870.5 2153.0,870.4 C2154.0,870.2 2155.0,869.8 2156.0,869.6 C2157.0,869.3 2158.3,869.2 2159.0,868.9 C2159.5,868.6 2159.6,868.2 2160.0,868.0 C2160.5,867.7 2161.3,867.5 2162.0,867.3 C2162.9,867.1 2164.0,867.2 2165.0,866.9 C2166.0,866.7 2167.0,866.0 2168.0,865.8 C2169.0,865.6 2170.0,865.6 2171.0,865.5 C2172.0,865.4 2173.0,865.3 2174.0,865.1 C2175.0,865.0 2176.0,864.8 2177.0,864.5 C2178.0,864.3 2179.2,863.9 2180.0,863.6 C2180.6,863.4 2180.9,863.1 2181.4,863.0 C2181.9,862.9 2182.4,863.1 2183.0,862.9 C2183.9,862.7 2185.0,861.6 2186.0,860.9 C2187.0,860.3 2188.0,859.6 2189.0,859.2 C2190.0,858.8 2191.0,859.0 2192.0,858.6 C2193.0,858.1 2194.7,856.4 2195.0,856.5 C2195.1,856.6 2194.9,856.9 2195.0,857.0 C2195.3,857.2 2197.0,856.1 2198.0,855.8 C2199.0,855.4 2200.0,855.1 2201.0,854.9 C2202.0,854.7 2203.0,854.9 2204.0,854.7 C2205.0,854.4 2206.0,853.8 2207.0,853.4 C2208.0,853.1 2209.9,852.8 2210.0,852.6 C2210.0,852.6 2210.0,852.5 2210.0,852.5 C2210.2,852.3 2212.0,852.1 2213.0,851.9 C2214.0,851.6 2215.0,851.4 2216.0,851.1 C2217.0,850.9 2218.0,850.6 2219.0,850.4 C2220.0,850.1 2221.0,849.9 2222.0,849.7 C2223.0,849.5 2223.9,849.4 2225.0,849.1 C2226.2,848.9 2227.7,848.4 2229.0,848.1" fill="none" stroke="#fd4242" stroke-width="11.2" stroke-linejoin="round" stroke-linecap="butt"/>
<path d="M181.0,1325.2 C181.3,1325.0 181.6,1324.7 182.0,1324.6 C182.6,1324.5 183.7,1325.0 184.5,1325.1 C185.3,1325.2 186.2,1325.2 187.0,1325.3 C187.8,1325.4 188.7,1325.8 189.5,1325.7 C190.4,1325.5 191.1,1324.7 192.0,1324.3 C192.8,1324.0 193.7,1323.9 194.5,1323.7 C195.3,1323.5 196.2,1323.2 197.0,1323.1 C197.8,1322.9 198.7,1322.7 199.5,1322.9 C200.3,1323.0 201.2,1323.8 202.0,1323.8 C202.8,1323.8 203.7,1323.0 204.5,1322.9 C205.3,1322.8 206.2,1323.2 207.0,1323.2 C207.8,1323.2 208.7,1322.7 209.5,1322.6 C210.3,1322.5 211.2,1322.4 212.0,1322.4 C212.8,1322.4 213.7,1322.3 214.5,1322.5 C215.3,1322.7 216.2,1323.3 217.0,1323.4 C217.8,1323.5 218.7,1323.5 219.5,1323.2 C220.4,1323.0 221.1,1322.0 222.0,1321.8 C222.8,1321.5 224.0,1321.3 224.5,1321.5 C224.9,1321.7 224.9,1322.4 225.2,1322.4 C225.6,1322.5 226.3,1321.1 227.0,1321.0 C227.7,1321.0 228.6,1322.0 229.5,1322.3 C230.3,1322.5 231.2,1322.6 232.0,1322.7 C232.8,1322.8 233.7,1322.8 234.5,1322.8 C235.3,1322.8 236.2,1322.8 237.0,1322.8 C237.8,1322.7 238.7,1322.5 239.5,1322.5 C240.3,1322.5 241.2,1322.8 242.0,1322.7 C242.8,1322.7 243.7,1322.7 244.5,1322.4 C245.4,1322.1 246.1,1321.1 247.0,1321.0 C247.8,1320.8 248.7,1321.5 249.5,1321.5 C250.3,1321.5 251.2,1320.9 252.0,1320.8 C252.8,1320.8 253.7,1321.1 254.5,1321.0 C255.3,1321.0 256.2,1320.8 257.0,1320.6 C257.8,1320.4 258.7,1320.2 259.5,1320.0 C260.3,1319.8 261.8,1319.3 262.0,1319.5 C262.1,1319.5 261.9,1319.6 262.0,1319.7 C262.2,1319.9 263.7,1319.4 264.5,1319.2 C265.3,1319.1 266.2,1319.0 267.0,1318.8 C267.8,1318.6 268.7,1318.0 269.5,1318.0 C270.3,1318.1 271.2,1318.8 272.0,1319.1 C272.8,1319.3 273.7,1319.3 274.5,1319.5 C275.3,1319.6 276.2,1320.0 277.0,1320.0 C277.8,1320.0 278.7,1319.7 279.5,1319.5 C280.3,1319.3 281.2,1319.0 282.0,1318.9 C282.8,1318.8 283.7,1319.1 284.5,1318.9 C285.4,1318.7 286.1,1317.6 287.0,1317.4 C287.8,1317.3 288.7,1317.8 289.5,1317.8 C290.3,1317.8 291.2,1317.6 292.0,1317.4 C292.8,1317.2 293.7,1316.7 294.5,1316.5 C295.3,1316.3 296.2,1315.9 297.0,1316.0 C297.7,1316.1 298.5,1317.0 298.9,1316.9 C299.2,1316.9 299.2,1316.5 299.5,1316.4 C300.0,1316.2 301.2,1316.0 302.0,1316.0 C302.8,1315.9 303.7,1316.1 304.5,1316.1 C305.3,1316.2 306.2,1316.5 307.0,1316.5 C307.8,1316.5 308.7,1316.3 309.5,1316.1 C310.3,1315.9 311.2,1315.4 312.0,1315.3 C312.8,1315.2 313.7,1315.6 314.5,1315.6 C315.3,1315.6 316.2,1315.3 317.0,1315.1 C317.8,1315.0 318.7,1314.9 319.5,1314.8 C320.3,1314.7 321.2,1314.6 322.0,1314.5 C322.8,1314.5 323.7,1314.8 324.5,1314.7 C325.3,1314.6 326.2,1314.0 327.0,1314.1 C327.8,1314.1 328.7,1314.6 329.5,1315.0 C330.3,1315.3 331.2,1316.0 332.0,1316.0 C332.8,1316.0 333.8,1315.4 334.5,1315.2 C335.0,1315.1 335.3,1314.9 335.7,1315.0 C336.1,1315.1 336.5,1315.4 337.0,1315.6 C337.7,1315.9 338.7,1316.5 339.5,1316.4 C340.4,1316.3 341.1,1315.2 342.0,1314.8 C342.8,1314.5 343.7,1314.2 344.5,1314.3 C345.4,1314.5 346.2,1315.3 347.0,1315.6 C347.8,1315.9 348.7,1316.2 349.5,1316.3 C350.3,1316.5 351.2,1316.5 352.0,1316.3 C352.8,1316.1 353.7,1315.4 354.5,1315.3 C355.3,1315.1 356.2,1315.2 357.0,1315.4 C357.9,1315.6 358.7,1316.2 359.5,1316.5 C360.3,1316.8 361.3,1317.3 362.0,1317.1 C362.5,1317.0 362.9,1316.0 363.3,1316.0 C363.7,1316.0 364.0,1317.2 364.5,1317.4 C365.1,1317.5 366.2,1316.3 367.0,1316.3 C367.8,1316.3 368.7,1317.3 369.5,1317.4 C370.3,1317.5 371.2,1316.9 372.0,1317.0 C372.8,1317.0 373.7,1317.6 374.5,1317.6 C375.3,1317.6 376.2,1316.7 377.0,1316.8 C377.9,1316.9 378.6,1318.1 379.5,1318.4 C380.3,1318.6 381.2,1318.4 382.0,1318.4 C382.8,1318.5 383.7,1318.9 384.5,1318.9 C385.3,1318.8 386.2,1318.1 387.0,1318.1 C387.8,1318.1 388.8,1318.6 389.5,1318.7 C390.0,1318.8 390.5,1318.6 390.9,1318.7 C391.3,1318.8 391.6,1319.0 392.0,1319.1 C392.7,1319.2 393.7,1319.4 394.5,1319.4 C395.3,1319.4 396.2,1319.1 397.0,1319.2 C397.8,1319.3 398.7,1319.9 399.5,1320.0 C400.3,1320.1 401.2,1319.8 402.0,1319.7 C402.8,1319.6 403.7,1319.6 404.5,1319.6 C405.3,1319.5 406.2,1319.2 407.0,1319.3 C407.9,1319.5 408.7,1320.4 409.5,1320.5 C410.3,1320.6 411.2,1320.0 412.0,1319.9 C412.8,1319.9 413.7,1320.1 414.5,1320.0 C415.3,1320.0 416.3,1319.6 417.0,1319.9 C417.6,1320.1 418.0,1321.3 418.5,1321.5 C418.8,1321.6 419.1,1321.3 419.5,1321.3 C420.2,1321.4 421.2,1322.0 422.0,1322.2 C422.8,1322.5 423.7,1322.9 424.5,1322.9 C425.3,1323.0 426.2,1322.4 427.0,1322.5 C427.8,1322.6 428.7,1323.2 429.5,1323.4 C430.3,1323.7 431.2,1323.9 432.0,1324.0 C432.8,1324.1 433.7,1324.0 434.5,1324.0 C435.3,1324.0 436.2,1323.7 437.0,1324.1 C437.9,1324.5 438.6,1326.3 439.5,1326.6 C440.3,1326.9 441.2,1326.2 442.0,1326.2 C442.8,1326.3 443.8,1326.4 444.5,1326.7 C445.1,1327.0 445.6,1327.9 446.1,1327.9 C446.4,1327.9 446.6,1327.2 447.0,1327.1 C447.6,1327.1 448.7,1328.1 449.5,1328.2 C450.3,1328.3 451.2,1327.8 452.0,1327.8 C452.8,1327.9 453.7,1328.5 454.5,1328.7 C455.3,1328.9 456.2,1328.8 457.0,1329.1 C457.9,1329.4 458.6,1330.5 459.5,1330.6 C460.3,1330.6 461.2,1329.7 462.0,1329.7 C462.8,1329.6 463.7,1330.0 464.5,1330.2 C465.3,1330.4 466.2,1330.6 467.0,1331.0 C467.9,1331.4 468.6,1332.4 469.5,1332.6 C470.3,1332.9 471.2,1332.7 472.0,1332.7 C472.6,1332.6 473.2,1332.5 473.7,1332.5 C474.0,1332.5 474.2,1332.6 474.5,1332.7 C475.1,1332.8 476.2,1333.2 477.0,1333.1 C477.8,1333.1 478.7,1332.8 479.5,1332.6 C480.3,1332.4 481.2,1331.8 482.0,1331.8 C482.8,1331.8 483.7,1332.2 484.5,1332.5 C485.4,1332.9 486.1,1333.6 487.0,1333.8 C487.8,1334.1 488.7,1334.3 489.5,1334.2 C490.3,1334.1 491.7,1333.3 492.0,1333.4 C492.1,1333.4 492.0,1333.5 492.1,1333.5 C492.4,1333.6 493.7,1333.5 494.5,1333.6 C495.3,1333.7 496.2,1334.1 497.0,1333.9 C497.9,1333.8 498.6,1332.9 499.5,1332.7 C500.3,1332.5 501.2,1332.8 502.0,1332.7 C502.8,1332.5 503.7,1332.2 504.5,1332.0 C505.3,1331.8 506.2,1331.5 507.0,1331.3 C507.8,1331.1 508.7,1331.1 509.5,1330.9 C510.3,1330.8 511.2,1330.5 512.0,1330.4 C512.8,1330.3 513.7,1330.5 514.5,1330.4 C515.3,1330.2 516.2,1329.6 517.0,1329.5 C517.8,1329.4 519.1,1329.4 519.5,1329.8 C519.7,1330.0 519.5,1330.6 519.7,1330.7 C520.1,1330.8 521.2,1328.9 522.0,1328.6 C522.8,1328.4 523.7,1329.1 524.5,1329.1 C525.3,1329.1 526.2,1329.0 527.0,1328.7 C527.9,1328.3 528.6,1327.0 529.5,1326.8 C530.3,1326.5 531.2,1327.3 532.0,1327.1 C532.9,1326.9 533.6,1326.0 534.5,1325.6 C535.3,1325.3 536.2,1325.3 537.0,1325.2 C537.8,1325.0 538.7,1325.0 539.5,1324.7 C540.3,1324.5 541.2,1324.0 542.0,1323.6 C542.8,1323.3 543.7,1322.9 544.5,1322.6 C545.3,1322.3 546.5,1321.9 547.0,1322.0 C547.2,1322.1 547.2,1322.4 547.4,1322.4 C547.8,1322.4 548.7,1321.1 549.5,1321.0 C550.3,1320.9 551.2,1321.9 552.0,1321.8 C552.9,1321.7 553.6,1320.5 554.5,1320.3 C555.3,1320.2 556.2,1321.0 557.0,1320.9 C557.9,1320.8 559.0,1319.6 559.5,1319.7 C559.7,1319.7 559.8,1320.0 560.0,1320.0 C560.4,1320.0 561.3,1319.2 562.0,1319.0 C562.8,1318.7 563.7,1318.8 564.5,1318.6 C565.4,1318.3 566.2,1317.7 567.0,1317.4 C567.8,1317.1 568.7,1316.9 569.5,1316.8 C570.3,1316.7 571.2,1316.8 572.0,1316.7 C572.8,1316.7 573.7,1316.6 574.5,1316.7 C575.3,1316.8 576.3,1317.4 577.0,1317.4 C577.5,1317.3 578.0,1316.5 578.4,1316.6 C578.8,1316.7 579.0,1317.8 579.5,1317.8 C580.1,1317.8 581.1,1316.1 582.0,1315.8 C582.8,1315.5 583.7,1315.9 584.5,1315.7 C585.4,1315.6 586.2,1314.7 587.0,1314.7 C587.8,1314.6 588.7,1315.5 589.5,1315.4 C590.3,1315.4 591.2,1314.6 592.0,1314.6 C592.8,1314.6 593.7,1315.3 594.5,1315.3 C595.3,1315.3 596.2,1315.0 597.0,1314.7 C597.9,1314.4 598.3,1313.7 599.5,1313.4 C602.4,1312.5 608.9,1312.6 615.2,1312.0 C624.9,1311.1 639.4,1309.4 652.0,1308.4 C665.2,1307.3 685.4,1302.4 692.6,1305.8 C696.2,1307.5 696.5,1312.2 698.7,1314.2 C700.4,1315.8 702.1,1316.5 704.0,1317.5 C706.1,1318.6 709.3,1318.1 710.9,1320.2 C713.6,1323.8 710.6,1340.9 712.4,1341.6 C713.3,1341.9 714.7,1337.9 716.0,1338.0 C717.8,1338.2 719.8,1342.9 721.6,1346.1 C723.8,1350.0 725.9,1360.1 727.6,1360.0 C729.4,1359.9 730.3,1349.4 732.0,1345.0 C733.4,1341.4 735.1,1335.7 736.8,1335.5 C738.1,1335.3 739.8,1338.1 741.0,1340.0 C742.5,1342.4 743.5,1344.9 744.4,1349.2 C746.3,1358.2 745.4,1391.6 747.4,1392.0 C748.3,1392.1 749.6,1388.0 750.5,1385.0 C751.9,1380.0 752.7,1371.8 753.5,1364.4 C754.4,1355.9 752.2,1341.4 755.1,1337.0 C756.5,1334.8 759.0,1335.2 761.1,1334.0 C763.5,1332.7 766.5,1328.8 768.8,1329.4 C771.7,1330.1 774.6,1336.8 776.4,1341.6 C778.5,1347.2 778.3,1354.1 779.4,1361.4 C780.8,1370.5 782.5,1381.7 784.0,1391.8 C785.5,1402.0 787.0,1412.4 788.6,1422.3 C790.1,1431.7 790.8,1442.5 793.1,1449.7 C794.7,1454.7 797.5,1457.1 799.2,1461.8 C801.3,1467.8 802.4,1475.6 803.8,1483.2 C805.4,1491.8 806.2,1510.6 808.3,1511.0 C809.2,1511.2 810.6,1508.2 811.5,1506.0 C812.9,1502.4 813.4,1496.8 814.4,1490.8 C815.8,1482.4 817.5,1470.5 819.0,1460.3 C820.5,1450.2 822.0,1439.3 823.6,1429.9 C825.0,1421.7 826.3,1414.5 828.1,1407.0 C829.9,1399.7 831.6,1386.0 834.2,1385.7 C836.4,1385.5 839.7,1394.1 841.8,1399.4 C844.4,1405.9 846.4,1413.9 847.9,1422.3 C849.7,1432.4 849.6,1455.9 851.0,1456.0 C852.1,1456.1 853.7,1445.1 854.8,1437.5 C856.5,1425.7 857.6,1407.0 858.6,1391.8 C859.6,1376.6 859.9,1358.7 860.9,1346.1 C861.6,1337.2 861.3,1330.0 863.2,1323.3 C864.9,1317.5 867.4,1312.5 870.8,1308.1 C874.1,1303.8 878.4,1300.6 883.0,1297.4 C888.0,1293.9 895.0,1289.8 900.0,1288.0 C903.6,1286.7 905.6,1286.9 909.7,1286.3 C916.6,1285.4 929.2,1283.9 937.4,1283.5 C943.9,1283.2 948.3,1284.0 955.0,1283.5 C964.1,1282.9 974.7,1280.7 986.8,1279.2 C1002.7,1277.2 1023.6,1274.6 1042.0,1272.7 C1060.4,1270.9 1080.7,1269.2 1097.3,1268.1 C1110.8,1267.2 1126.2,1269.3 1134.1,1266.3 C1138.6,1264.6 1140.8,1258.5 1143.3,1258.9 C1145.6,1259.3 1145.8,1266.0 1148.8,1267.2 C1153.4,1269.0 1163.8,1262.6 1170.9,1261.7 C1177.3,1260.9 1184.1,1260.3 1189.3,1261.7 C1193.6,1262.9 1197.7,1265.2 1200.3,1268.1 C1202.8,1270.8 1203.8,1273.9 1205.0,1278.0 C1206.7,1283.8 1206.9,1292.2 1207.5,1300.0 C1208.2,1308.8 1208.0,1320.1 1208.8,1328.0 C1209.4,1333.8 1210.4,1343.0 1211.2,1343.0 C1212.0,1343.0 1213.0,1333.8 1213.6,1328.0 C1214.4,1320.1 1214.3,1309.0 1214.8,1300.0 C1215.3,1291.7 1215.3,1282.4 1216.5,1276.0 C1217.3,1271.6 1218.2,1268.0 1220.0,1265.0 C1221.6,1262.4 1223.2,1260.4 1226.1,1258.9 C1230.4,1256.7 1237.3,1256.9 1244.5,1256.1 C1254.6,1255.0 1269.0,1254.3 1281.3,1253.4 C1293.6,1252.5 1307.5,1251.3 1318.2,1250.6 C1326.4,1250.1 1333.5,1249.4 1340.0,1249.6 C1345.4,1249.8 1349.4,1249.9 1354.7,1251.4 C1361.5,1253.3 1370.0,1262.2 1376.8,1261.5 C1383.4,1260.8 1388.6,1248.4 1395.2,1247.7 C1402.0,1247.0 1410.1,1258.1 1417.3,1257.9 C1424.3,1257.7 1430.8,1246.6 1437.6,1246.8 C1444.8,1247.0 1452.6,1259.8 1459.6,1260.6 C1465.4,1261.3 1471.9,1253.5 1476.2,1255.1 C1480.6,1256.7 1482.9,1263.7 1485.4,1270.7 C1489.5,1282.3 1490.8,1302.2 1492.8,1320.4 C1495.3,1342.5 1496.7,1371.3 1498.3,1394.1 C1499.7,1413.8 1499.8,1438.0 1502.0,1449.3 C1503.0,1454.5 1504.5,1460.4 1505.7,1460.3 C1507.6,1460.2 1509.6,1443.0 1511.2,1430.9 C1513.7,1412.0 1514.7,1380.1 1516.7,1357.3 C1518.4,1337.5 1519.3,1316.8 1522.2,1302.0 C1524.2,1291.7 1527.2,1276.3 1529.6,1276.3 C1531.5,1276.3 1533.5,1286.4 1535.1,1292.8 C1537.3,1301.2 1538.4,1322.2 1540.6,1322.3 C1542.7,1322.4 1545.5,1304.9 1548.0,1296.5 C1550.4,1288.4 1551.4,1277.9 1555.4,1272.6 C1558.3,1268.7 1562.9,1265.1 1566.4,1265.2 C1569.7,1265.3 1573.1,1268.3 1575.6,1272.6 C1580.7,1281.4 1580.4,1322.2 1583.0,1322.3 C1585.3,1322.3 1587.8,1296.0 1590.3,1283.6 C1592.7,1272.1 1593.0,1255.0 1597.7,1250.5 C1600.2,1248.1 1603.4,1249.2 1606.9,1248.7 C1611.6,1248.0 1618.5,1245.5 1623.5,1246.8 C1628.3,1248.0 1633.2,1251.0 1636.4,1256.0 C1641.4,1263.7 1642.1,1278.7 1643.7,1292.8 C1645.8,1311.2 1645.0,1336.5 1645.6,1357.3 C1646.2,1376.9 1646.5,1414.3 1647.4,1414.3 C1648.3,1414.3 1649.9,1377.3 1651.1,1357.3 C1652.4,1335.2 1650.5,1289.8 1654.8,1287.3 C1655.9,1286.7 1657.4,1287.6 1658.5,1289.2 C1662.2,1294.6 1662.2,1321.9 1664.0,1338.9 C1665.9,1356.8 1668.3,1375.0 1669.5,1394.1 C1670.8,1414.7 1670.1,1458.5 1671.3,1458.5 C1672.5,1458.5 1675.3,1414.7 1676.9,1394.1 C1678.4,1375.0 1678.9,1357.0 1680.5,1338.9 C1682.0,1321.4 1680.2,1294.6 1686.1,1287.3 C1688.9,1283.9 1694.2,1282.3 1697.1,1283.6 C1700.9,1285.3 1702.1,1295.5 1704.5,1302.0 C1707.1,1309.0 1708.0,1322.8 1711.8,1324.1 C1714.7,1325.1 1719.6,1319.0 1722.9,1316.8 C1725.5,1315.0 1727.5,1314.2 1730.0,1312.0 C1733.5,1308.9 1737.8,1299.2 1741.0,1299.4 C1743.8,1299.6 1745.9,1306.2 1748.4,1310.4 C1751.5,1315.7 1753.6,1328.4 1757.6,1328.9 C1762.0,1329.5 1769.8,1309.8 1774.2,1310.4 C1778.2,1310.9 1780.0,1321.6 1783.4,1328.9 C1788.2,1339.0 1793.5,1364.8 1800.0,1365.7 C1805.5,1366.4 1812.4,1344.1 1818.4,1343.6 C1823.4,1343.2 1828.7,1351.2 1833.1,1356.5 C1838.1,1362.6 1842.6,1379.2 1846.0,1378.6 C1850.8,1377.8 1852.1,1343.3 1855.2,1328.9 C1857.6,1317.8 1859.8,1299.5 1862.5,1299.4 C1864.8,1299.3 1866.4,1319.2 1869.9,1319.6 C1874.0,1320.1 1882.4,1293.4 1886.5,1293.9 C1889.9,1294.3 1890.9,1314.0 1893.8,1314.1 C1897.8,1314.2 1904.4,1277.8 1908.6,1277.3 C1910.6,1277.0 1912.6,1281.0 1914.1,1284.7 C1917.1,1292.0 1917.1,1320.8 1919.5,1321.0 C1921.4,1321.1 1923.1,1305.9 1926.2,1298.9 C1929.4,1291.7 1934.2,1284.8 1938.5,1278.4 C1942.5,1272.5 1946.8,1267.9 1950.8,1262.0 C1955.1,1255.6 1957.9,1244.0 1963.1,1241.5 C1967.2,1239.6 1973.5,1240.6 1977.4,1243.5 C1982.8,1247.5 1985.6,1268.4 1988.7,1268.1 C1991.8,1267.8 1991.8,1246.9 1995.9,1241.5 C1998.6,1237.9 2002.4,1236.7 2006.1,1235.3 C2009.9,1233.9 2014.8,1232.2 2018.4,1233.3 C2022.0,1234.5 2024.3,1242.6 2027.6,1242.5 C2031.7,1242.4 2036.3,1228.1 2041.0,1227.1 C2044.7,1226.3 2049.4,1229.8 2052.7,1232.6 C2056.3,1235.7 2059.1,1240.2 2061.2,1245.4 C2063.9,1252.1 2064.8,1260.2 2066.0,1270.0 C2067.8,1284.1 2068.1,1305.0 2069.0,1322.0 C2069.9,1338.3 2070.6,1355.4 2071.5,1370.0 C2072.3,1382.3 2072.7,1395.6 2074.0,1404.0 C2074.8,1409.1 2076.0,1416.0 2077.0,1416.0 C2078.0,1416.0 2079.3,1409.1 2080.0,1404.0 C2081.2,1395.6 2081.0,1382.3 2081.5,1370.0 C2082.1,1355.4 2082.0,1335.2 2083.0,1322.0 C2083.7,1312.6 2084.0,1304.6 2086.0,1298.0 C2087.6,1292.9 2090.2,1289.3 2092.5,1285.2 C2094.7,1281.3 2097.6,1273.8 2099.6,1273.9 C2101.5,1274.0 2103.4,1280.1 2104.5,1285.0 C2106.4,1293.3 2105.6,1306.0 2106.0,1320.0 C2106.6,1341.2 2106.7,1374.2 2107.3,1400.0 C2107.8,1424.1 2108.1,1450.5 2109.2,1470.0 C2110.0,1484.0 2111.3,1506.0 2112.4,1506.0 C2113.5,1506.0 2114.8,1484.0 2115.6,1470.0 C2116.7,1450.5 2116.8,1424.1 2117.3,1400.0 C2117.9,1374.2 2118.2,1342.1 2118.8,1320.0 C2119.2,1304.4 2119.2,1291.7 2120.3,1280.0 C2121.2,1270.7 2121.6,1261.5 2124.0,1255.0 C2125.7,1250.4 2128.3,1246.6 2131.0,1244.0 C2133.1,1241.9 2135.3,1241.2 2138.0,1239.7 C2141.3,1237.9 2145.2,1234.3 2149.4,1234.0 C2154.4,1233.6 2161.2,1236.9 2166.4,1239.7 C2171.6,1242.6 2176.7,1246.1 2180.7,1251.1 C2185.5,1257.0 2187.7,1267.9 2192.0,1273.9 C2195.4,1278.7 2199.7,1285.4 2203.4,1285.2 C2207.3,1285.0 2211.7,1276.8 2214.8,1271.0 C2218.6,1264.0 2220.3,1251.5 2223.3,1245.4 C2225.1,1241.6 2227.1,1239.7 2229.0,1236.9" fill="none" stroke="#000000" stroke-width="11.2" stroke-linejoin="round" stroke-linecap="butt"/>
<line x1="178.5" y1="42" x2="178.5" y2="1587.5" stroke="#000" stroke-width="5"/>
<line x1="176.0" y1="1558.3" x2="2232.8" y2="1558.3" stroke="#000" stroke-width="5"/>
<line x1="471.6" y1="1558.3" x2="471.6" y2="1587" stroke="#000" stroke-width="5"/>
<line x1="764.7" y1="1558.3" x2="764.7" y2="1587" stroke="#000" stroke-width="5"/>
<line x1="1057.8" y1="1558.3" x2="1057.8" y2="1587" stroke="#000" stroke-width="5"/>
<line x1="1351.0" y1="1558.3" x2="1351.0" y2="1587" stroke="#000" stroke-width="5"/>
<line x1="1644.1" y1="1558.3" x2="1644.1" y2="1587" stroke="#000" stroke-width="5"/>
<line x1="1937.2" y1="1558.3" x2="1937.2" y2="1587" stroke="#000" stroke-width="5"/>
<line x1="2230.3" y1="1558.3" x2="2230.3" y2="1587" stroke="#000" stroke-width="5"/>
<line x1="325.1" y1="1558.3" x2="325.1" y2="1571.5" stroke="#000" stroke-width="5"/>
<line x1="618.2" y1="1558.3" x2="618.2" y2="1571.5" stroke="#000" stroke-width="5"/>
<line x1="911.3" y1="1558.3" x2="911.3" y2="1571.5" stroke="#000" stroke-width="5"/>
<line x1="1204.4" y1="1558.3" x2="1204.4" y2="1571.5" stroke="#000" stroke-width="5"/>
<line x1="1497.5" y1="1558.3" x2="1497.5" y2="1571.5" stroke="#000" stroke-width="5"/>
<line x1="1790.6" y1="1558.3" x2="1790.6" y2="1571.5" stroke="#000" stroke-width="5"/>
<line x1="2083.7" y1="1558.3" x2="2083.7" y2="1571.5" stroke="#000" stroke-width="5"/>
<text x="177.0" y="1657" font-size="64" text-anchor="middle" fill="#000">4000</text>
<text x="470.1" y="1657" font-size="64" text-anchor="middle" fill="#000">3500</text>
<text x="763.7" y="1657" font-size="64" text-anchor="middle" fill="#000">3000</text>
<text x="1056.8" y="1657" font-size="64" text-anchor="middle" fill="#000">2500</text>
<text x="1349.5" y="1657" font-size="64" text-anchor="middle" fill="#000">2000</text>
<text x="1644.1" y="1657" font-size="64" text-anchor="middle" fill="#000">1500</text>
<text x="1937.2" y="1657" font-size="64" text-anchor="middle" fill="#000">1000</text>
<text x="2230.8" y="1657" font-size="64" text-anchor="middle" fill="#000">500</text>
<text x="861" y="1787" font-size="78" fill="#000">Wavenumber(cm<tspan font-size="53" dy="-32.5">-1</tspan><tspan dy="32.5" dx="4">)</tspan></text>
<text transform="translate(81,1106) rotate(-90)" x="0" y="0" font-size="78.3" fill="#000">Transmittance(%)</text>
<text x="335.5" y="124.8" font-size="66" text-anchor="middle" fill="#1010b4">a</text>
<text x="814.9" y="390.3" font-size="50" text-anchor="middle" fill="#2e50c8">2900</text>
<text x="1229.5" y="297.0" font-size="50" text-anchor="middle" fill="#2e50c8">2245</text>
<text x="1515.0" y="395.2" font-size="50" text-anchor="middle" fill="#2e50c8">1600</text>
<text x="1614.5" y="359.3" font-size="50" text-anchor="middle" fill="#2e50c8">1490</text>
<text x="1704.2" y="420.1" font-size="50" text-anchor="middle" fill="#2e50c8">1450</text>
<text x="337.3" y="823.4" font-size="62.5" text-anchor="middle" fill="#dc2a2a">b</text>
<text x="508.3" y="998.5" font-size="50" text-anchor="middle" fill="#dc2a2a">3455</text>
<text x="768.9" y="1074.7" font-size="50" text-anchor="middle" fill="#dc2a2a">2923</text>
<text x="908.5" y="1065.5" font-size="50" text-anchor="middle" fill="#dc2a2a">2850</text>
<text x="1517.2" y="1083.9" font-size="50" text-anchor="middle" fill="#dc2a2a">1750</text>
<text x="2109.0" y="1008.7" font-size="50" text-anchor="middle" fill="#dc2a2a">720</text>
<text x="339.0" y="1279.4" font-size="66" text-anchor="middle" fill="#000000">c</text>
<text x="1230.3" y="1443.4" font-size="50" text-anchor="middle" fill="#000000">2245</text>
<text x="1578.8" y="1393.6" font-size="50" text-anchor="middle" fill="#000000">1600</text>
<text x="1615.4" y="1470.4" font-size="50" text-anchor="middle" fill="#000000">1490</text>
<text x="1695.0" y="1521.9" font-size="50" text-anchor="middle" fill="#000000">1450</text>
<text x="1522.0" y="1535.7" font-size="50" text-anchor="middle" fill="#000000">1750</text>
</svg>
</body></html>
